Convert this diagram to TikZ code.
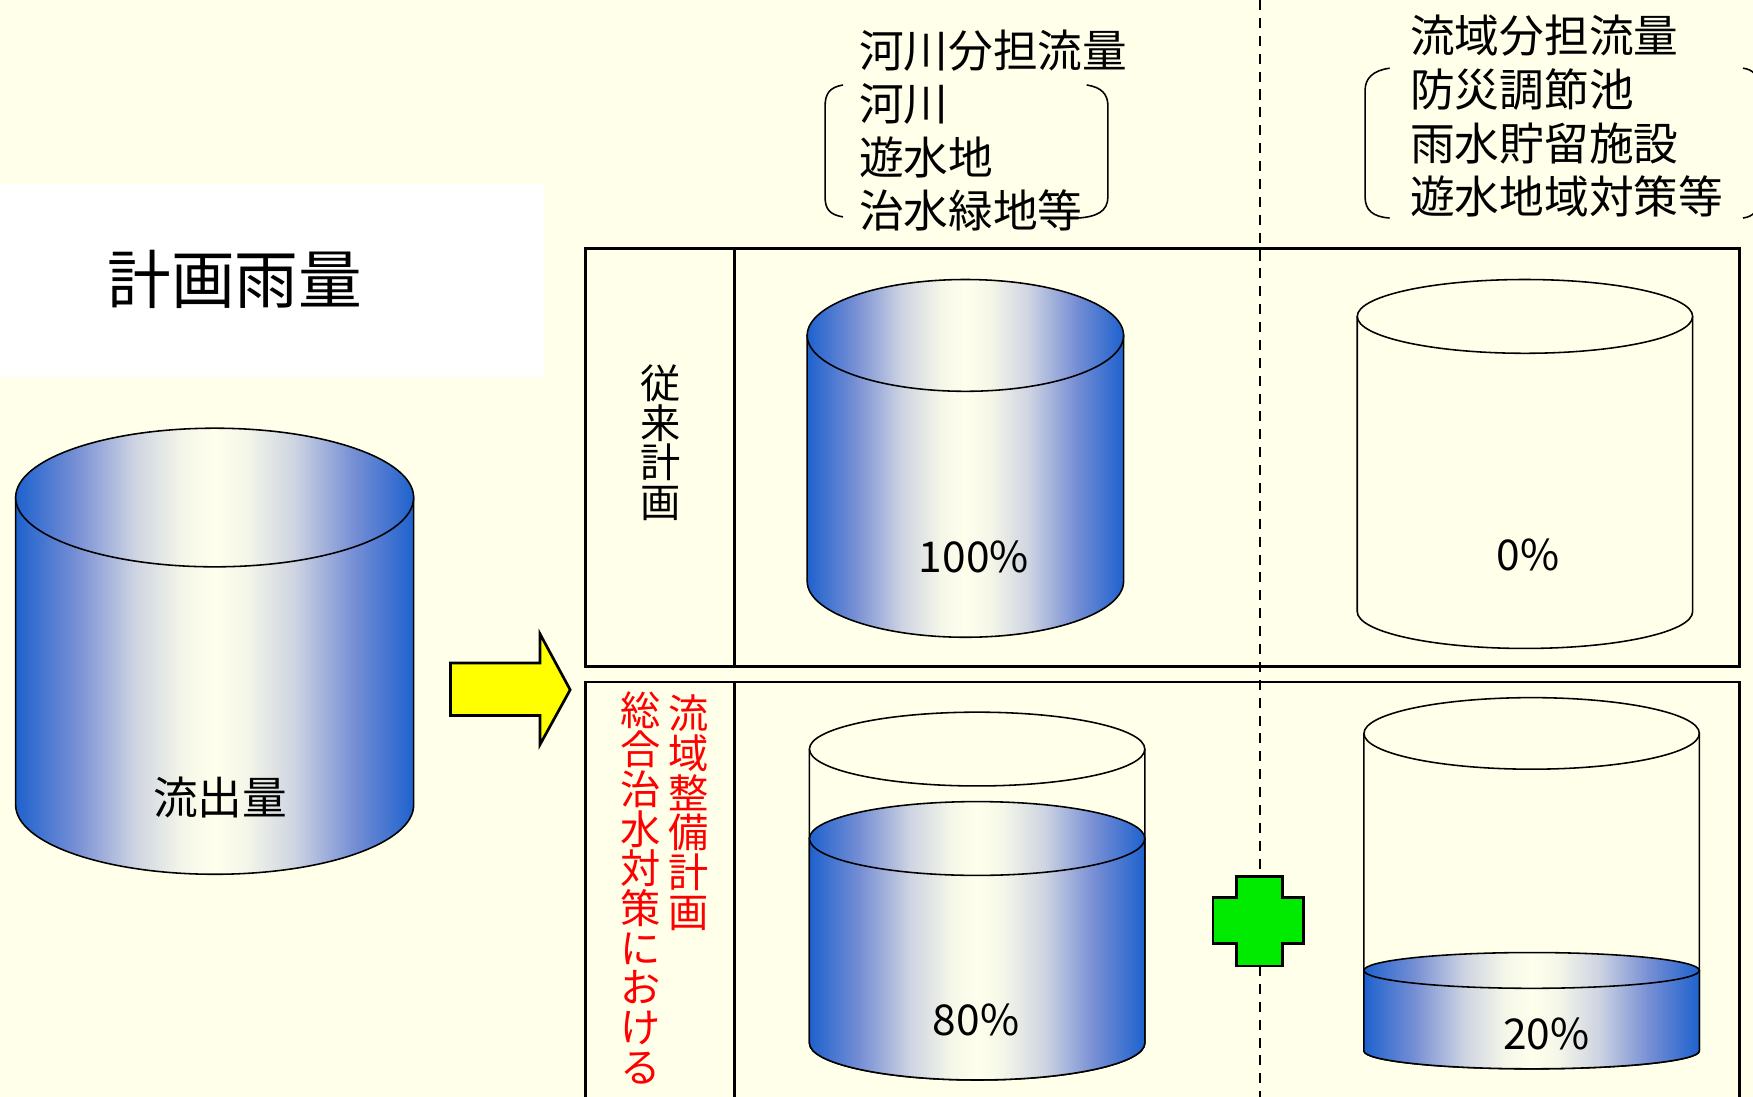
\documentclass[tikz,border=0pt]{standalone}
\usepackage{fontspec}
\setmainfont{Noto Sans CJK JP}
\definecolor{bgcream}{RGB}{255,255,234}
\definecolor{cylblue}{RGB}{30,98,206}
\definecolor{cylmida}{RGB}{118,142,212}
\definecolor{cylmidb}{RGB}{206,212,226}
\definecolor{cylmidc}{RGB}{244,246,232}
\definecolor{cylcream}{RGB}{255,255,236}
\definecolor{plusgreen}{RGB}{0,235,0}
\definecolor{arrowyellow}{RGB}{255,255,0}
\pgfdeclarehorizontalshading{cylshade}{100bp}{color(0bp)=(cylblue); color(25bp)=(cylblue); color(32.5bp)=(cylmida); color(40bp)=(cylmidb); color(46bp)=(cylmidc); color(50bp)=(cylcream); color(54bp)=(cylmidc); color(60bp)=(cylmidb); color(67.5bp)=(cylmida); color(75bp)=(cylblue); color(100bp)=(cylblue)}
\newcommand\myfs[2]{\fontsize{#1}{#2}\selectfont}
% #1 cx, #2 top centre y, #3 bottom centre y, #4 rx, #5 ry, #6 style
\newcommand\drawcyl[6]{%
  \path[#6] ({#1-#4},#2) -- ({#1-#4},#3) arc[start angle=180,end angle=0,x radius=#4,y radius=#5] -- ({#1+#4},#2) -- cycle;
  \path[#6] (#1,#2) ellipse[x radius=#4,y radius=#5];
}
% #1 cx, #2 top centre y, #3 bottom centre y, #4 rx, #5 top ry, #6 bottom ry
\newcommand\emptycyl[6]{%
  \path[outl] ({#1-#4},#2) -- ({#1-#4},#3) arc[start angle=180,end angle=0,x radius=#4,y radius=#6] -- ({#1+#4},#2);
  \path[outl] (#1,#2) ellipse[x radius=#4,y radius=#5];
}
\begin{document}
\begin{tikzpicture}[x=0.5pt,y=-0.5pt,
  outl/.style={draw=black,line width=0.7pt},
  cylstyle/.style={draw=black,line width=0.7pt,shading=cylshade},
  panel/.style={draw=black,line width=1.2pt},
  lbl/.style={inner sep=0pt,font=\myfs{20pt}{24pt}},
  pct/.style={inner sep=0pt,font=\myfs{19pt}{22pt}},
  vert/.style={inner sep=0pt,align=center,font=\myfs{18pt}{17.75pt}},
  redvert/.style={vert,text=red},
]
\useasboundingbox (0,0) rectangle (1568,981);
\clip (0,0) rectangle (1568,981);
\fill[bgcream] (0,0) rectangle (1568,981);

% title box
\fill[white] (0,165) rectangle (487,337);
\node[inner sep=0pt,font=\myfs{28.5pt}{30pt}] (title) at (210,250) {計画雨量};

% big cylinder
\drawcyl{192}{445}{720}{178}{62}{cylstyle}
\node[lbl] (outflow) at (197,713) {流出量};

% block arrow
\draw[fill=arrowyellow,line width=1.2pt,line join=miter]
  (403,593) -- (483,593) -- (483,567) -- (510,617) -- (483,666) -- (483,640) -- (403,640) -- cycle;

% panels
\draw[panel] (524,222) rectangle (1556,596);
\draw[panel] (657,222) -- (657,596);
\draw[panel] (524,995) -- (524,610) -- (1556,610) -- (1556,995);
\draw[panel] (657,610) -- (657,995);

% dashed divider
\coordinate (dtop) at (1127,0);
\coordinate (dbot) at (1127,981);
\draw[line width=1.1pt,dash pattern=on 4.5pt off 3.5pt] (dtop) -- (dbot);

% headings, left group
\node[lbl,anchor=west] (rv0) at (768,45) {河川分担流量};
\node[lbl,anchor=west] (rv1) at (768,93) {河川};
\node[lbl,anchor=west] (rv2) at (768,141) {遊水地};
\node[lbl,anchor=west] (rv3) at (768,188) {治水緑地等};
\draw[outl] (754,76) .. controls (742,78) and (738,84) .. (738,95) -- (738,176) .. controls (738,187) and (742,192) .. (754,194);
\draw[outl] (972,76) .. controls (985,78) and (991,84) .. (991,95) -- (991,176) .. controls (991,189) and (981,194) .. (964,195);

% headings, right group
\node[lbl,anchor=west] (bs0) at (1261,32) {流域分担流量};
\node[lbl,anchor=west] (bs1) at (1261,80) {防災調節池};
\node[lbl,anchor=west] (bs2) at (1261,128) {雨水貯留施設};
\node[lbl,anchor=west] (bs3) at (1261,176) {遊水地域対策等};
\draw[outl] (1243,61) .. controls (1228,63) and (1221,70) .. (1221,81) -- (1221,176) .. controls (1221,188) and (1228,194) .. (1243,195);
\draw[outl] (1559,61) .. controls (1568,62) and (1574,68) .. (1574,80) -- (1574,176) .. controls (1574,188) and (1568,194) .. (1559,195);

% row labels
\node[vert] (conv) at (591,396) {従\\来\\計\\画};
\node[redvert] (colA) at (616,727) {流\\域\\整\\備\\計\\画};
\node[redvert] (colB) at (573,794) {総\\合\\治\\水\\対\\策\\に\\お\\け\\る};

% upper cylinders
\drawcyl{863.5}{300}{520}{141.5}{50}{cylstyle}
\node[pct] (p100) at (871,498) {100\%};
\emptycyl{1364}{283}{547}{150}{33}{33}
\node[pct] (p0) at (1367,496) {0\%};

% lower left cylinder
\emptycyl{874}{670}{933}{150}{33}{33}
\drawcyl{874}{750}{933}{150}{33}{cylstyle}
\node[pct] (p80) at (873,912) {80\%};

% lower right cylinder
\emptycyl{1370}{656}{940}{150}{32}{16}
\drawcyl{1370}{868}{940}{150}{16}{cylstyle}
\node[pct] (p20) at (1383,925) {20\%};

% plus sign
\draw[fill=plusgreen,line width=1.2pt,line join=miter]
  (1106,784) -- (1147,784) -- (1147,803) -- (1166,803) -- (1166,844) -- (1147,844) -- (1147,864)
  -- (1106,864) -- (1106,844) -- (1085,844) -- (1085,803) -- (1106,803) -- cycle;
\end{tikzpicture}
\end{document}
